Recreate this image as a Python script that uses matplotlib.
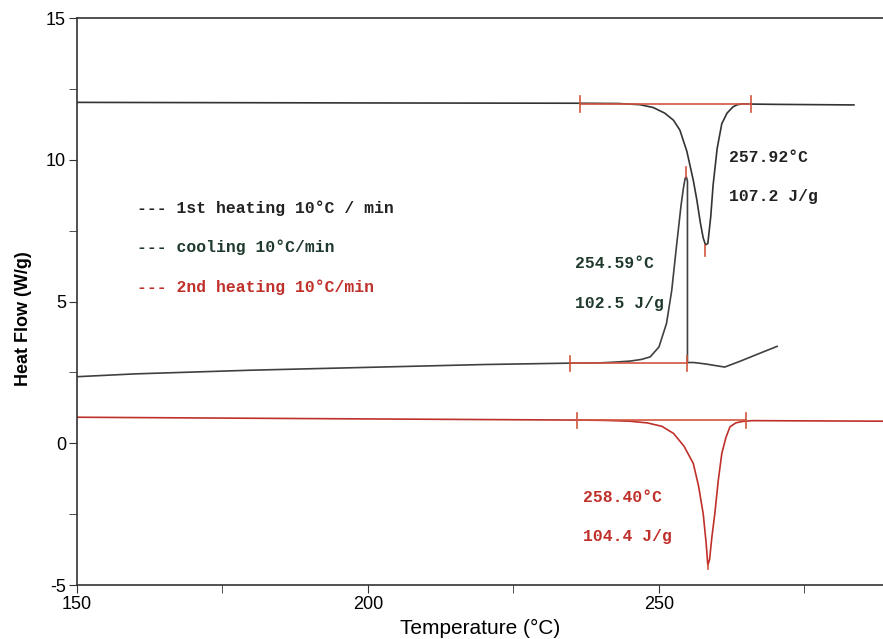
import numpy as np
import matplotlib
matplotlib.use("Agg")
import matplotlib.pyplot as plt

plt.rcParams["axes.unicode_minus"] = False
plt.rcParams["font.family"] = ["Liberation Sans", "DejaVu Sans"]

# curves
heat1_T = [150, 200, 236, 243, 246.7, 249, 251, 252.5, 253.6, 254.8, 255.9, 256.5, 257.1, 257.6,
           258.0, 258.4, 258.9, 259.3, 260, 260.8, 261.7, 262.7, 263.5, 264.4, 266, 270, 283.5]
heat1_hf = [12.03, 12.01, 12.0, 11.99, 11.95, 11.85, 11.65, 11.4, 11.05, 10.3, 9.28, 8.6, 7.8, 7.25,
            7.0, 7.05, 8.0, 9.1, 10.4, 11.28, 11.65, 11.87, 11.95, 11.98, 11.97, 11.96, 11.94]

cool_T = [150, 160, 180, 200, 220, 235, 240, 242, 245, 247, 248.5, 250, 251.3, 252.2, 253,
          253.8, 254.2, 254.5, 254.7, 254.9, 254.9, 256, 258, 261.3, 264, 267, 270.3]
cool_hf = [2.35, 2.45, 2.58, 2.68, 2.78, 2.83, 2.84, 2.86, 2.9, 2.96, 3.05, 3.4, 4.23, 5.4, 6.93,
           8.4, 9.0, 9.35, 9.4, 9.25, 2.85, 2.85, 2.8, 2.69, 2.9, 3.15, 3.42]

heat2_T = [150, 200, 236, 240.4, 245, 248, 250.5, 252.5, 254.3, 255.9, 256.8, 257.6, 258.1,
           258.4, 258.7, 259.1, 259.6, 260.2, 260.8, 261.5, 262.2, 263.2, 264.3, 266, 289]
heat2_hf = [0.92, 0.86, 0.82, 0.81, 0.78, 0.72, 0.6, 0.35, -0.1, -0.71, -1.5, -2.48, -3.5,
            -4.3, -4.1, -3.3, -2.48, -1.3, -0.36, 0.2, 0.58, 0.72, 0.77, 0.8, 0.78]

# integration limits (T start, T end, baseline level) and peak marks (T, y)
base1 = (236.4, 265.9, 11.97)
base_cool = (234.7, 254.9, 2.82)
base2 = (236.0, 265.0, 0.81)
peak1 = (257.92, 7.0, 6.6)
peak_cool = (254.6, 9.4, 9.75)
peak2 = (258.4, -4.3, -4.45)

black = "#333333"
green = "#1f3a2c"
red = "#c0302a"
lred = "#d2553f"

fig = plt.figure(figsize=(8.83, 6.39), dpi=100)
ax = fig.add_axes([0.0872, 0.0845, 0.9128, 0.887])

ax.plot(heat1_T, heat1_hf, color=black, lw=1.2)
ax.plot(cool_T, cool_hf, color="#404040", lw=1.2)
ax.plot(heat2_T, heat2_hf, color=red, lw=1.2)

for (t0, t1, yb) in [base1, base_cool, base2]:
    ax.plot([t0, t1], [yb, yb], color=lred, lw=1.2)
    for t in (t0, t1):
        ax.plot([t, t], [yb - 0.27, yb + 0.27], color=lred, lw=1.2)
for (t, y0, y1) in [peak1, peak_cool, peak2]:
    ax.plot([t, t], [y0, y1], color=lred, lw=1.2)

mono = dict(family="Liberation Mono", fontweight="bold", fontsize=11.8)
ax.text(160.3, 8.3, "--- 1st heating 10°C / min", color="#222222", va="center", **mono)
ax.text(160.3, 6.92, "--- cooling 10°C/min", color=green, va="center", **mono)
ax.text(160.3, 5.5, "--- 2nd heating 10°C/min", color=red, va="center", **mono)

ax.text(262.0, 10.1, "257.92°C", color="#222222", va="center", **mono)
ax.text(262.0, 8.7, "107.2 J/g", color="#222222", va="center", **mono)
ax.text(235.6, 6.35, "254.59°C", color=green, va="center", **mono)
ax.text(235.6, 4.94, "102.5 J/g", color=green, va="center", **mono)
ax.text(237.0, -1.9, "258.40°C", color=red, va="center", **mono)
ax.text(237.0, -3.3, "104.4 J/g", color=red, va="center", **mono)

ax.set_xlim(150, 288.5)
ax.set_ylim(-5, 15)
ax.set_xticks([150, 200, 250])
ax.set_xticks([175, 225, 275], minor=True)
ax.set_yticks([-5, 0, 5, 10, 15])
ax.set_yticks([-2.5, 2.5, 7.5, 12.5], minor=True)
ax.tick_params(which="both", direction="out", color=black, labelsize=13, pad=2)
ax.tick_params(which="major", length=6)
ax.tick_params(which="minor", length=6)
ax.spines["right"].set_visible(False)
for s in ["left", "bottom", "top"]:
    ax.spines[s].set_color(black)
    ax.spines[s].set_linewidth(1.2)

ax.set_xlabel("Temperature (°C)", fontsize=15, labelpad=4)
ax.set_ylabel("Heat Flow (W/g)", fontsize=13, fontweight="bold")
ax.yaxis.set_label_coords(-0.056, 0.47)

fig.savefig("out.png", dpi=100)
